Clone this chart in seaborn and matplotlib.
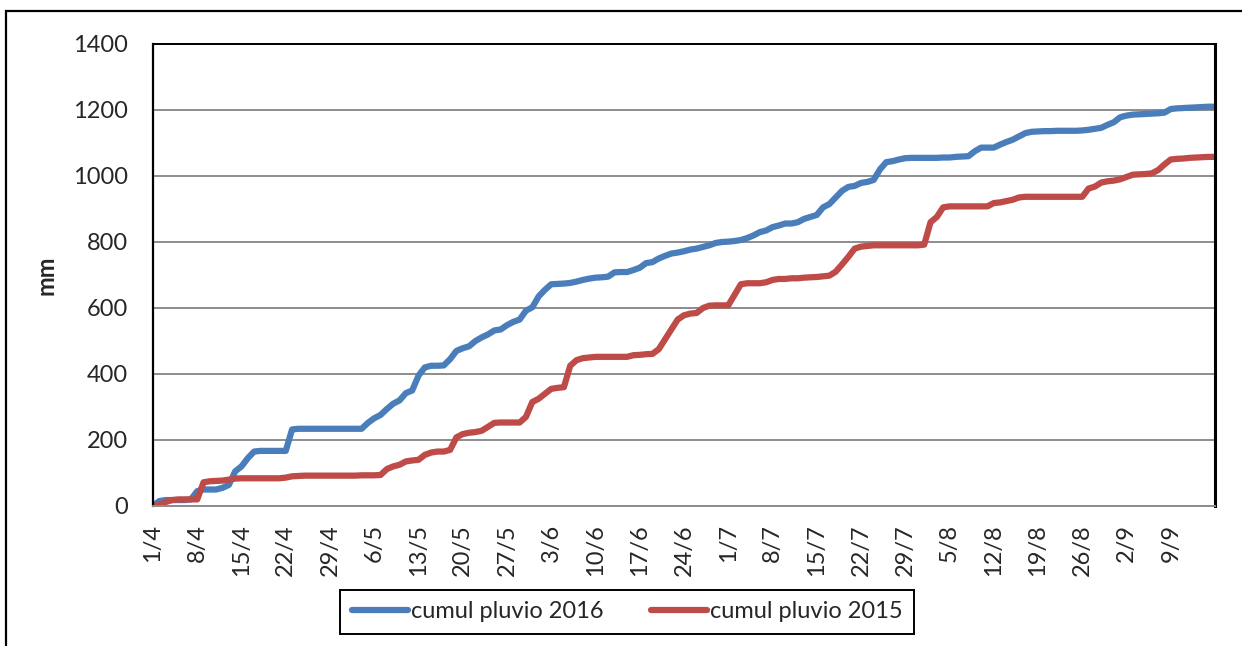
import numpy as np
import pandas as pd
import matplotlib
matplotlib.use("Agg")
import matplotlib.pyplot as plt
from matplotlib.patches import Rectangle
import seaborn as sns

# cumulative rainfall (mm), one value per day from 1/4 to 16/9
cumul_2016 = [
    0, 15, 18, 18, 18, 18, 20, 45, 50, 50,
    50, 55, 64, 105, 120, 145, 165, 167, 167, 167,
    167, 167, 232, 234, 234, 234, 234, 234, 234, 234,
    234, 234, 234, 234, 252, 266, 276, 294, 310, 320,
    342, 350, 395, 420, 425, 425, 426, 445, 470, 478,
    484, 500, 511, 520, 532, 535, 548, 558, 565, 592,
    602, 635, 655, 672, 673, 674, 676, 680, 685, 689,
    692, 693, 695, 708, 709, 709, 715, 722, 736, 739,
    750, 758, 765, 768, 772, 777, 780, 785, 790, 797,
    800, 801, 803, 806, 812, 820, 830, 835, 845, 850,
    856, 856, 860, 870, 876, 882, 905, 915, 935, 955,
    967, 970, 979, 982, 988, 1020, 1042, 1045, 1050, 1054,
    1055, 1055, 1055, 1055, 1055, 1056, 1056, 1058, 1059, 1060,
    1075, 1086, 1086, 1086, 1095, 1103, 1110, 1120, 1130, 1134,
    1135, 1136, 1136, 1137, 1137, 1137, 1137, 1138, 1140, 1143,
    1146, 1155, 1163, 1178, 1183, 1186, 1187, 1188, 1189, 1190,
    1192, 1203, 1205, 1206, 1207, 1208, 1209, 1210, 1210,
]
cumul_2015 = [
    0, 3, 12, 18, 20, 20, 20, 20, 72, 75,
    76, 77, 80, 83, 84, 84, 84, 84, 84, 84,
    84, 86, 90, 91, 92, 92, 92, 92, 92, 92,
    92, 92, 92, 93, 93, 93, 94, 112, 120, 125,
    135, 138, 140, 155, 162, 165, 165, 170, 208, 218,
    222, 224, 228, 240, 252, 253, 253, 253, 253, 270,
    315, 325, 340, 355, 358, 360, 425, 442, 448, 450,
    452, 452, 452, 452, 452, 452, 457, 458, 460, 461,
    475, 505, 535, 565, 578, 583, 585, 600, 607, 608,
    608, 608, 640, 672, 675, 675, 675, 678, 685, 688,
    688, 690, 690, 692, 693, 694, 696, 698, 710, 732,
    755, 780, 786, 788, 790, 790, 790, 790, 790, 790,
    790, 790, 792, 860, 876, 905, 908, 908, 908, 908,
    908, 908, 908, 918, 920, 924, 928, 935, 937, 937,
    937, 937, 937, 937, 937, 937, 937, 937, 962, 968,
    980, 984, 986, 990, 997, 1004, 1005, 1006, 1008, 1018,
    1035, 1050, 1052, 1053, 1055, 1056, 1057, 1058, 1058,
]
series_names = ["cumul pluvio 2016", "cumul pluvio 2015"]
week_labels = ["1/4", "8/4", "15/4", "22/4", "29/4", "6/5", "13/5", "20/5",
               "27/5", "3/6", "10/6", "17/6", "24/6", "1/7", "8/7", "15/7",
               "22/7", "29/7", "5/8", "12/8", "19/8", "26/8", "2/9", "9/9", ""]
y_ticks = [0, 200, 400, 600, 800, 1000, 1200, 1400]

days = np.arange(len(cumul_2016))
df = pd.concat([
    pd.DataFrame({"jour": days, "mm": cumul_2016, "serie": series_names[0]}),
    pd.DataFrame({"jour": days, "mm": cumul_2015, "serie": series_names[1]}),
])

sns.set_style("white")
plt.rcParams["font.family"] = ["Lato", "DejaVu Sans"]

fig = plt.figure(figsize=(12.42, 6.46), dpi=100)
ax = fig.add_axes([153 / 1242, 140 / 646, 1062 / 1242, 462 / 646])

sns.lineplot(data=df, x="jour", y="mm", hue="serie", ax=ax,
             palette=["#4a7ebb", "#be4b48"], linewidth=4.5, legend=True)

ax.set_xlim(0, 168)
ax.set_ylim(0, 1400)
ax.set_xticks(np.arange(0, 169, 7))
ax.set_xticklabels(week_labels, rotation=90, fontsize=17)
ax.set_yticks(y_ticks)
ax.set_yticklabels([str(v) for v in y_ticks], fontsize=17)
ax.set_xlabel("")
ax.set_ylabel("mm", fontsize=17, fontweight="bold")
ax.yaxis.set_label_coords(-0.0895, 0.5)

ax.grid(axis="y", color="#8c8c8c", linewidth=1.4)
ax.set_axisbelow(True)
ax.tick_params(axis="y", direction="out", length=6, width=1.2, color="black", pad=12)
ax.tick_params(axis="x", direction="out", length=7, width=1.4, color="#8c8c8c", pad=6)
ax.spines["left"].set_color("black")
ax.spines["left"].set_linewidth(1.6)
ax.spines["top"].set_color("black")
ax.spines["top"].set_linewidth(1.4)
ax.spines["right"].set_color("black")
ax.spines["right"].set_linewidth(2.2)
ax.spines["bottom"].set_color("#8c8c8c")
ax.spines["bottom"].set_linewidth(1.4)
for s in ax.spines.values():
    s.set_visible(True)

handles, labels = ax.get_legend_handles_labels()
leg = ax.legend(handles, labels, loc="center",
                bbox_to_anchor=((627 - 153) / 1062, -106 / 462),
                ncol=2, fontsize=17, frameon=True, fancybox=False,
                framealpha=1, edgecolor="black", handlelength=2.4,
                handletextpad=0.1, columnspacing=2.0, borderpad=0.5,
                borderaxespad=0)
leg.get_frame().set_linewidth(1.4)
for line in leg.get_lines():
    line.set_linewidth(4.5)

# outer chart border
fig.add_artist(Rectangle((6 / 1242, -0.05), 1.1, 0.983 + 0.05,
                         transform=fig.transFigure, fill=False,
                         edgecolor="black", linewidth=1.6))

plt.savefig("out.png", dpi=100)
plt.close()
